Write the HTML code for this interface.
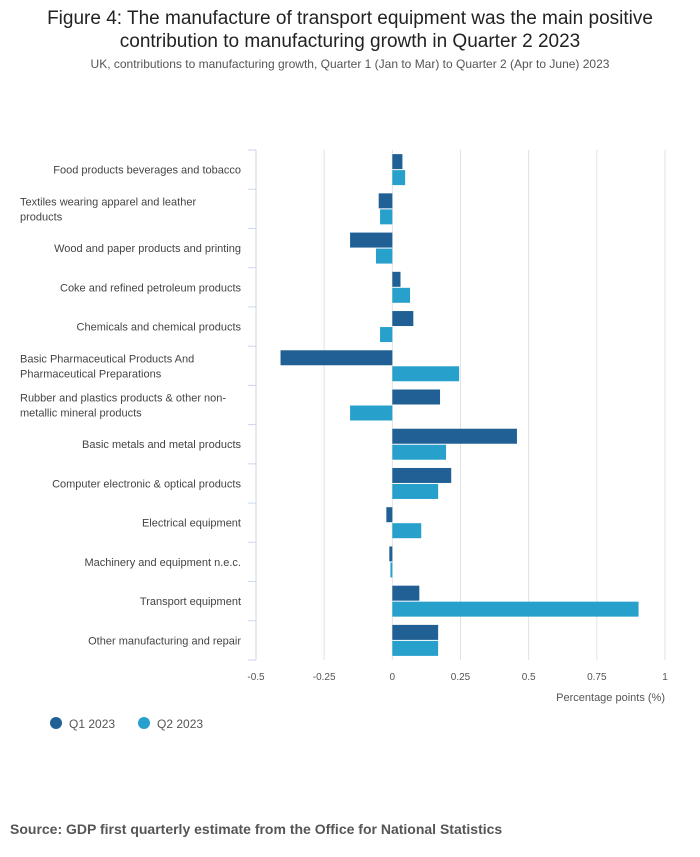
<!DOCTYPE html>
<html><head><meta charset="utf-8"><style>
body{margin:0;background:#fff;font-family:"Liberation Sans",sans-serif;}
#wrap{position:relative;width:700px;height:857px;}
.t{position:absolute;left:0;width:700px;text-align:center;color:#222;}
</style></head><body>
<div id="wrap">
<div class="t" style="top:7px;font-size:19px;line-height:23px;">Figure 4: The manufacture of transport equipment was the main positive<br>contribution to manufacturing growth in Quarter 2 2023</div>
<div class="t" style="top:57px;font-size:12px;color:#555;">UK, contributions to manufacturing growth, Quarter 1 (Jan to Mar) to Quarter 2 (Apr to June) 2023</div>
<svg id="chart" width="700" height="857" style="position:absolute;left:0;top:0"></svg>
<div style="position:absolute;left:10px;top:821px;font-size:14px;font-weight:bold;color:#555;">Source: GDP first quarterly estimate from the Office for National Statistics</div>
</div>
<script>
const categories=[["Food products beverages and tobacco"],["Textiles wearing apparel and leather","products"],["Wood and paper products and printing"],["Coke and refined petroleum products"],["Chemicals and chemical products"],["Basic Pharmaceutical Products And","Pharmaceutical Preparations"],["Rubber and plastics products & other non-","metallic mineral products"],["Basic metals and metal products"],["Computer electronic & optical products"],["Electrical equipment"],["Machinery and equipment n.e.c."],["Transport equipment"],["Other manufacturing and repair"]];
const q1=[0.037,-0.05,-0.155,0.03,0.077,-0.41,0.175,0.457,0.216,-0.022,-0.011,0.099,0.168];
const q2=[0.047,-0.045,-0.06,0.065,-0.045,0.245,-0.155,0.197,0.168,0.106,-0.007,0.903,0.168];
const ticks=[-0.5,-0.25,0,0.25,0.5,0.75,1];
const tickLabels=["-0.5","-0.25","0","0.25","0.5","0.75","1"];
const svg=document.getElementById('chart');const NS='http://www.w3.org/2000/svg';
const x0=256,x1=665,yTop=150,yBot=660;
const x=v=>x0+(v-(-0.5))/1.5*(x1-x0);
const rowH=(yBot-yTop)/categories.length;
function mk(t,a,name){const e=document.createElementNS(NS,t);for(const k in a)e.setAttribute(k,a[k]);


svg.appendChild(e);return e;}
ticks.forEach((v,i)=>{
 if(v!==-0.5)mk('line',{x1:x(v),x2:x(v),y1:yTop,y2:yBot,stroke:'#e2e2e2'},'gridline');
 const t=mk('text',{x:x(v),y:yBot+20,'text-anchor':'middle','font-size':10,fill:'#555'},'x-tick-label');t.textContent=tickLabels[i];
});
mk('line',{x1:x0,x2:x0,y1:yTop,y2:yBot,stroke:'#ccd6eb'},'y-axis-line');
for(let i=0;i<=categories.length;i++){mk('line',{x1:x0-8,x2:x0,y1:yTop+i*rowH,y2:yTop+i*rowH,stroke:'#ccd6eb'},'y-tick');}
categories.forEach((c,i)=>{
 const cy=yTop+i*rowH+rowH/2;
 const t=mk('text',{x:241,y:cy+4-(c.length-1)*7.5,'text-anchor':c.length>1?'start':'end','font-size':11,fill:'#444'},'category-label');
 c.forEach((s,j)=>{const ts=document.createElementNS(NS,'tspan');ts.setAttribute('x',c.length>1?20:241);ts.setAttribute('dy',j?15:0);ts.textContent=s;t.appendChild(ts);});
 [[q1[i],'#206095',cy-15.5],[q2[i],'#27a0cc',cy+0.5]].forEach(([v,col,y],k)=>{
  const a=x(Math.min(0,v)),b=x(Math.max(0,v));
  mk('rect',{x:a,y:y,width:Math.max(b-a,0.5),height:15,fill:col},k?'bar-q2':'bar-q1');
 });
});
const at=mk('text',{x:665,y:yBot+41,'text-anchor':'end','font-size':11,fill:'#555'},'x-axis-title');at.textContent='Percentage points (%)';
[['Q1 2023','#206095',56],['Q2 2023','#27a0cc',144]].forEach(([l,c,lx])=>{
 mk('circle',{cx:lx,cy:723,r:6,fill:c},'legend-marker');
 const t=mk('text',{x:lx+13,y:728,'font-size':12,fill:'#555'},'legend-entry');t.textContent=l;
});
</script>
</body></html>
